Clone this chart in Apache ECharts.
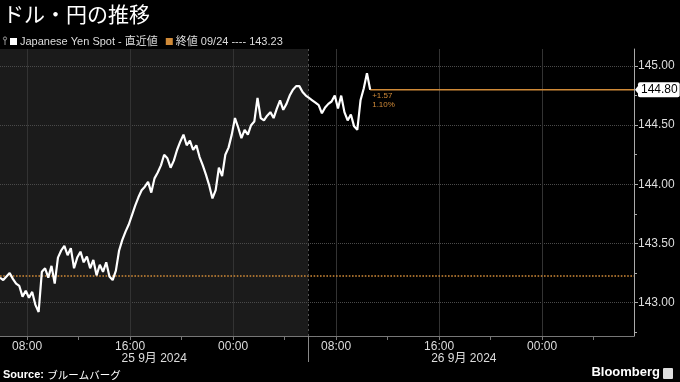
<!DOCTYPE html>
<html><head><meta charset="utf-8">
<script src="https://cdn.jsdelivr.net/npm/echarts@6/dist/echarts.min.js"></script>
<style>html,body{margin:0;padding:0;background:#000}#c{width:680px;height:382px}</style>
</head><body><div id="c"></div>
<script>
// ---- data ----
const chartTitle = 'ドル・円の推移';
const spotName = 'Japanese Yen Spot - 直近値';
const closeName = '終値 09/24 ---- 143.23';
const prevClose = 143.23;
const lastPrice = 144.80;
const changeLines = ['+1.57', '1.10%'];
const startHour = 5.9;      // hours after 2024-09-25 00:00 (local)
const stepHours = 0.25;     // sampling step of the spot series
const spotValues = [
  143.21,143.19,143.22,143.25,143.20,143.16,143.14,143.05,143.10,143.04,
  143.09,142.98,142.92,143.26,143.29,143.21,143.31,143.16,143.38,143.44,
  143.48,143.40,143.46,143.29,143.38,143.43,143.34,143.39,143.29,143.36,
  143.23,143.32,143.26,143.34,143.22,143.19,143.27,143.44,143.53,143.60,
  143.66,143.74,143.82,143.89,143.95,143.98,144.02,143.93,144.05,144.10,
  144.16,144.25,144.22,144.14,144.20,144.29,144.36,144.42,144.33,144.37,
  144.29,144.33,144.23,144.16,144.08,143.99,143.88,143.95,144.14,144.07,
  144.25,144.31,144.42,144.56,144.48,144.39,144.46,144.42,144.50,144.53,
  144.73,144.56,144.54,144.58,144.61,144.56,144.64,144.71,144.63,144.68,
  144.75,144.80,144.83,144.83,144.78,144.75,144.73,144.71,144.69,144.67,
  144.60,144.65,144.68,144.70,144.75,144.64,144.75,144.61,144.54,144.59,
  144.49,144.46,144.71,144.81,144.94,144.80
];
const xLabelHours = [8, 16, 24, 32, 40, 48];
const xTickLabels = ['08:00', '16:00', '00:00', '08:00', '16:00', '00:00'];
const xMinorHours = [8, 12, 16, 20, 24, 28, 32, 36, 40, 44, 48, 52];
const yLabelValues = [143, 143.5, 144, 144.5, 145];
const yMinorValues = [142.75, 143, 143.25, 143.5, 143.75, 144, 144.25, 144.5, 144.75, 145];
const dateLabels = ['25 9月 2024', '26 9月 2024'];
const sessionBounds = [5.9, 29.85, 54];
const xMin = 5.9, xMax = 55.14, yMin = 142.717, yMax = 145.144;

const spotData = spotValues.map((v, i) => [startHour + i * stepHours, v]);
const lastX = spotData[spotData.length - 1][0];

const ORANGE = '#d08a38';
const FONT = '"Liberation Sans", "Noto Sans CJK JP", sans-serif';

const chart = echarts.init(document.getElementById('c'), null, {renderer: 'canvas'});
const gridBox = {left: 0, right: 46, top: 49, bottom: 46};

chart.setOption({
  backgroundColor: '#000',
  animation: false,
  textStyle: {fontFamily: FONT},
  title: {
    text: chartTitle, left: 1, top: 2, padding: [2, 2],
    textStyle: {color: '#fff', fontSize: 21, fontWeight: 'normal', fontFamily: '"Noto Sans CJK JP", sans-serif'}
  },
  legend: {
    left: 10, top: 36, padding: 0, icon: 'rect', itemWidth: 7, itemHeight: 7, itemGap: 8,
    textStyle: {color: '#ddd', fontSize: 11, fontFamily: FONT, padding: [0, 0, 0, -2]},
    data: [{name: spotName}, {name: closeName}]
  },
  grid: gridBox,
  xAxis: [
    {
      type: 'value', min: xMin, max: xMax, position: 'bottom',
      axisLine: {show: true, lineStyle: {color: '#777'}},
      axisTick: {show: true, customValues: xLabelHours, length: 4, lineStyle: {color: '#777'}},
      axisLabel: {
        customValues: xLabelHours, color: '#ddd', fontSize: 12, margin: 5,
        formatter: v => {
          let best = 0;
          xLabelHours.forEach((h, i) => { if (Math.abs(h - v) < Math.abs(xLabelHours[best] - v)) best = i; });
          return xTickLabels[best];
        }
      },
      splitLine: {show: true, lineStyle: {color: '#333', width: 1}}
    },
    {
      type: 'value', min: xMin, max: xMax, position: 'bottom',
      axisLine: {show: false},
      axisTick: {show: true, customValues: xMinorHours, length: 4, lineStyle: {color: '#777'}},
      axisLabel: {show: false},
      splitLine: {show: false}
    }
  ],
  yAxis: [
    {
      type: 'value', min: yMin, max: yMax, position: 'right',
      axisLine: {show: true, lineStyle: {color: '#aaa'}},
      axisTick: {show: true, customValues: yLabelValues, length: 4, lineStyle: {color: '#aaa'}},
      axisLabel: {customValues: yLabelValues, color: '#ddd', fontSize: 12, margin: 4, formatter: v => v.toFixed(2)},
      splitLine: {show: true, lineStyle: {color: '#4a4a4a', type: 'dotted'}}
    },
    {
      type: 'value', min: yMin, max: yMax, position: 'right',
      axisLine: {show: false},
      axisTick: {show: true, customValues: yMinorValues, length: 3, lineStyle: {color: '#aaa'}},
      axisLabel: {show: false},
      splitLine: {show: false}
    }
  ],
  series: [
    {
      name: closeName, type: 'line', data: [], color: ORANGE, z: 3,
      markLine: {
        silent: true, symbol: ['none', 'none'], animation: false,
        label: {show: false},
        lineStyle: {color: ORANGE, type: 'dotted', width: 1.6},
        data: [{yAxis: prevClose}]
      }
    },
    {
      name: 'last', type: 'line', z: 4, color: ORANGE,
      data: [[lastX, lastPrice], [xMax, lastPrice]],
      showSymbol: false,
      lineStyle: {color: ORANGE, width: 1.4},
      endLabel: {show: true, distance: 4, formatter: () => lastPrice.toFixed(2),
                 color: '#000', backgroundColor: '#fff', fontSize: 12, padding: [2, 2, 1, 3], borderRadius: 2, fontFamily: FONT},
      markLine: {
        silent: true, symbol: ['none', 'none'], animation: false,
        data: [[
          {coord: [lastX, lastPrice], lineStyle: {color: 'rgba(0,0,0,0)', width: 0}},
          {coord: [lastX + 3, lastPrice], lineStyle: {color: 'rgba(0,0,0,0)', width: 0},
           label: {show: true, position: 'insideStartBottom', distance: [2, 2], formatter: changeLines.join('\n'),
                   color: ORANGE, fontSize: 8, lineHeight: 9, fontFamily: FONT}}
        ]]
      }
    },
    {
      name: spotName, type: 'line', data: spotData, color: '#fff',
      showSymbol: false, z: 5,
      lineStyle: {color: '#fff', width: 2.2}
    }
  ]
});

// decorations positioned through the axes
const px = v => chart.convertToPixel({xAxisIndex: 0}, v);
const py = v => chart.convertToPixel({yAxisIndex: 0}, v);
const plotTop = gridBox.top, plotBottom = 382 - gridBox.bottom, plotRight = 680 - gridBox.right;
const sepX = Math.round(px(sessionBounds[1])) + 0.5;
const lastY = py(lastPrice);
const graphics = [
  {type: 'rect', z: -10, shape: {x: px(sessionBounds[0]), y: plotTop, width: px(sessionBounds[1]) - px(sessionBounds[0]), height: plotBottom - plotTop},
   style: {fill: '#1b1b1b'}},
  {type: 'line', z: 10, shape: {x1: sepX, y1: plotTop, x2: sepX, y2: plotBottom}, style: {stroke: '#555', lineWidth: 1, lineDash: [2, 3]}},
  {type: 'line', z: 10, shape: {x1: sepX, y1: plotBottom, x2: sepX, y2: plotBottom + 26}, style: {stroke: '#888', lineWidth: 1}},
  // pointer of the last-price tag
  {type: 'polygon', z: 20, shape: {points: [[plotRight + 1, lastY], [plotRight + 5, lastY - 5], [plotRight + 5, lastY + 5]]}, style: {fill: '#fff'}},
  // legend pin
  {type: 'circle', shape: {cx: 5, cy: 38.5, r: 1.6}, style: {fill: 'none', stroke: '#bbb', lineWidth: 0.8}},
  {type: 'line', shape: {x1: 5, y1: 40, x2: 5, y2: 45}, style: {stroke: '#bbb', lineWidth: 0.8}},
  // footer
  {type: 'text', left: 3, top: 369, style: {
    text: '{b|Source:} {n|ブルームバーグ}', fill: '#fff',
    rich: {b: {fontWeight: 'bold', fontSize: 11, fill: '#fff', fontFamily: FONT},
           n: {fontSize: 10.5, fill: '#fff', fontFamily: '"Noto Sans CJK JP", sans-serif'}}}},
  {type: 'text', right: 20, top: 366, style: {text: 'Bloomberg', fill: '#fff', fontSize: 13, fontWeight: 'bold', fontFamily: FONT}},
  {type: 'rect', right: 7, top: 368, shape: {width: 10, height: 11, r: 1}, style: {fill: '#ddd'}}
];
for (let i = 0; i < dateLabels.length; i++) {
  const cx = (Math.max(px(sessionBounds[i]), 0) + px(sessionBounds[i + 1])) / 2;
  graphics.push({type: 'text', x: cx, y: plotBottom + 23, style: {
    text: dateLabels[i], fill: '#ddd', fontSize: 12, fontFamily: FONT, align: 'center', verticalAlign: 'middle'}});
}
chart.setOption({graphic: graphics});
</script>
</body></html>
